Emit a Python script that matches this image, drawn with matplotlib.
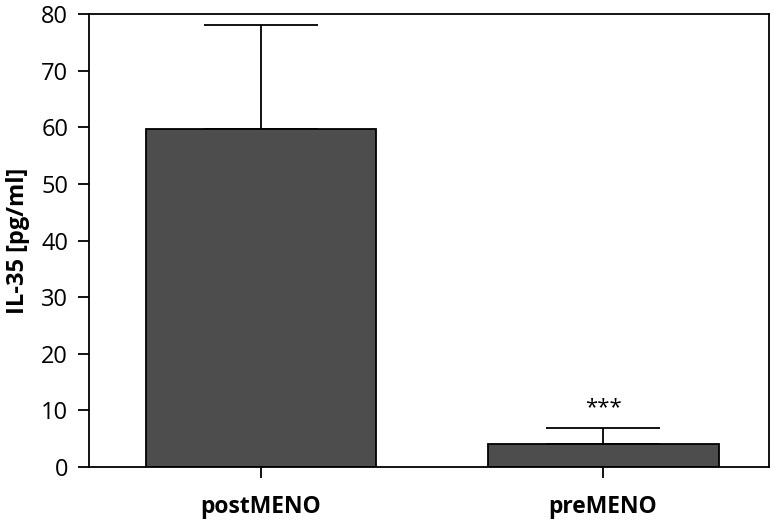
import numpy as np
import matplotlib.pyplot as plt

plt.rcParams['font.family'] = ['Open Sans', 'DejaVu Sans']

groups = ['postMENO', 'preMENO']
means = [59.7, 4.1]
errors = [18.4, 2.8]
signif = ['', '***']

fig = plt.figure(figsize=(7.75, 5.23), dpi=100)
ax = fig.add_axes([0.1148, 0.1071, 0.8775, 0.8661])

x = np.arange(len(groups))
ax.bar(x, means, width=0.675, color='#4d4d4d', edgecolor='black', linewidth=1.3, zorder=2)
ax.errorbar(x, means, yerr=[np.zeros(len(means)), errors], fmt='none',
            ecolor='black', elinewidth=1.3, capsize=41, capthick=1.3, zorder=1)

for xi, m, e, s in zip(x, means, errors, signif):
    if s:
        ax.text(xi, m + e + 3.5, s, ha='center', va='center', fontsize=16)

ax.set_xlim(-0.503, 1.485)
ax.set_ylim(0, 80)
ax.set_yticks(np.arange(0, 81, 10))
ax.set_xticks(x)
ax.set_xticklabels(groups, fontsize=16.5, fontweight='bold')
ax.set_ylabel('IL-35 [pg/ml]', fontsize=17, fontweight='bold', labelpad=8)

for sp in ax.spines.values():
    sp.set_linewidth(1.3)
ax.tick_params(axis='y', length=8, width=1.3, labelsize=17, pad=7)
ax.tick_params(axis='x', length=8, width=1.3, pad=12)

fig.savefig('out.png', dpi=100)
